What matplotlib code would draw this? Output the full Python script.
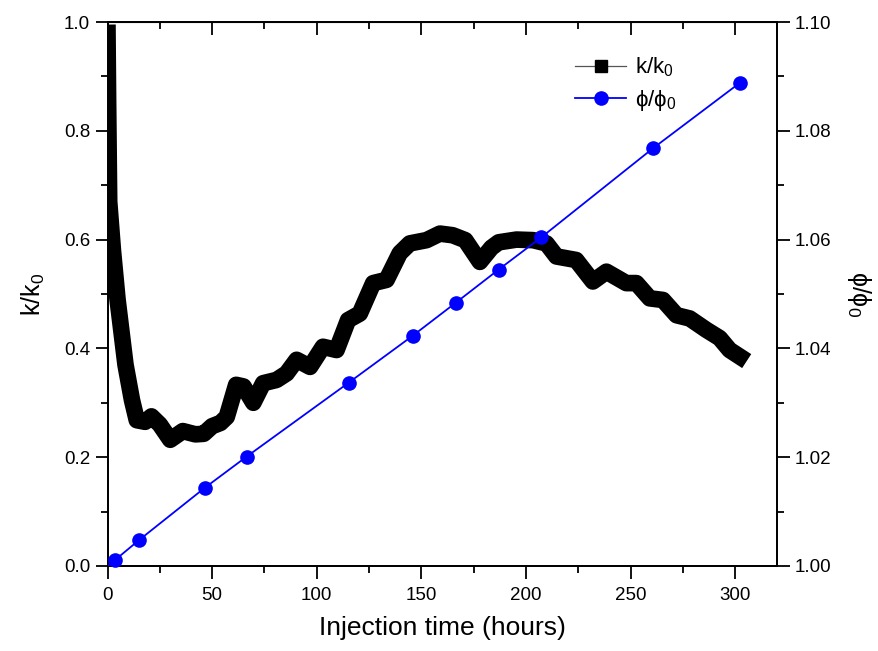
import matplotlib
matplotlib.use("Agg")
import matplotlib.pyplot as plt
from matplotlib.lines import Line2D
from matplotlib.ticker import MultipleLocator

plt.rcParams['font.family'] = ['Liberation Sans', 'DejaVu Sans']
plt.rcParams['mathtext.fontset'] = 'custom'
plt.rcParams['mathtext.rm'] = 'Liberation Sans'
plt.rcParams['mathtext.it'] = 'Liberation Sans:italic'

# Normalised permeability k/k0 versus injection time
time_k = [0, 0.3, 0.8, 2.6, 4.8, 8.6, 11.7, 14, 18, 21, 25, 30, 36, 42, 46, 50,
          54, 57, 61.5, 65, 69.7, 74.4, 80.8, 85.6, 90.4, 96.8, 103, 109.5, 115,
          120.6, 127, 133.4, 139.7, 144.5, 152.5, 158.9, 165, 171, 178, 183.5,
          187, 195.5, 203.4, 209.8, 214.6, 224, 232, 238.5, 248, 252.8, 259.2,
          265.5, 272, 278.3, 286.3, 292.6, 297.4, 302.2]
k_ratio = [0.98, 0.85, 0.67, 0.58, 0.49, 0.37, 0.305, 0.268, 0.265, 0.275, 0.26,
           0.232, 0.248, 0.242, 0.243, 0.257, 0.263, 0.274, 0.333, 0.33, 0.30,
           0.336, 0.342, 0.354, 0.379, 0.366, 0.403, 0.397, 0.452, 0.464, 0.52,
           0.526, 0.575, 0.593, 0.599, 0.611, 0.608, 0.599, 0.559, 0.585, 0.595,
           0.60, 0.599, 0.593, 0.569, 0.5625, 0.523, 0.541, 0.52, 0.52, 0.492,
           0.489, 0.461, 0.455, 0.434, 0.419, 0.397, 0.385]

# Normalised porosity phi/phi0 versus injection time
time_phi = [0, 3.6, 15.2, 46.6, 66.5, 115.3, 145.8, 166.5, 187.0, 207.3, 260.8, 302.2]
phi_ratio = [1.0, 1.0011, 1.0048, 1.0144, 1.0201, 1.0337, 1.0423, 1.0484, 1.0545,
             1.0604, 1.0768, 1.0888]

fig = plt.figure(figsize=(8.79, 6.51), dpi=100)
ax = fig.add_axes([0.1223, 0.1306, 0.7616, 0.8356])

ax.plot(time_k, k_ratio, color='black', lw=12, solid_capstyle='projecting',
        solid_joinstyle='round', zorder=3)

ax.set_xlim(0, 320)
ax.set_ylim(0, 1.0)
ax.xaxis.set_major_locator(MultipleLocator(50))
ax.xaxis.set_minor_locator(MultipleLocator(25))
ax.yaxis.set_major_locator(MultipleLocator(0.2))
ax.yaxis.set_minor_locator(MultipleLocator(0.1))
ax.yaxis.set_major_formatter(plt.FuncFormatter(lambda v, p: f"{v:.1f}"))
ax.tick_params(which='major', direction='out', length=9, width=1.3, labelsize=13.5)
ax.tick_params(which='minor', direction='out', length=5, width=1.3)
ax.tick_params(axis='x', pad=6)
for s in ax.spines.values():
    s.set_linewidth(1.3)

top = ax.secondary_xaxis('top')
top.xaxis.set_major_locator(MultipleLocator(50))
top.xaxis.set_minor_locator(MultipleLocator(25))
top.tick_params(which='major', direction='in', length=9, width=1.3, labeltop=False)
top.tick_params(which='minor', direction='in', length=5, width=1.3)

ax.set_xlabel('Injection time (hours)', fontsize=19, labelpad=9)
ax.set_ylabel('k/k$_0$', fontsize=18, labelpad=12)

ax2 = ax.twinx()
ax2.plot(time_phi, phi_ratio, color='#0000ff', lw=1.3, zorder=3)
ax2.plot(time_phi[1:], phi_ratio[1:], ls='none', marker='o', ms=9.5,
         color='#0000ff', zorder=4, clip_on=False)
ax2.set_ylim(1.0, 1.10)
ax2.yaxis.set_major_locator(MultipleLocator(0.02))
ax2.yaxis.set_minor_locator(MultipleLocator(0.01))
ax2.yaxis.set_major_formatter(plt.FuncFormatter(lambda v, p: f"{v:.2f}"))
ax2.tick_params(which='major', direction='out', length=9, width=1.3, labelsize=13.5)
ax2.tick_params(which='minor', direction='out', length=5, width=1.3)
for s in ax2.spines.values():
    s.set_linewidth(1.3)
ax2.set_ylabel('ϕ/ϕ$_0$', fontsize=18, rotation=-90, labelpad=30)

handles = [
    Line2D([], [], color='#555555', lw=0.9, marker='s', ms=8,
           markerfacecolor='black', markeredgecolor='black'),
    Line2D([], [], color='#0000ff', lw=1.3, marker='o', ms=9.5,
           markerfacecolor='#0000ff', markeredgecolor='#0000ff'),
]
ax2.legend(handles, ['k/k$_0$', 'ϕ/ϕ$_0$'], loc='upper right',
           bbox_to_anchor=(0.88, 0.975), frameon=False, fontsize=16,
           handlelength=2.3, handletextpad=0.4, labelspacing=0.4)

fig.savefig('out.png', dpi=100)
